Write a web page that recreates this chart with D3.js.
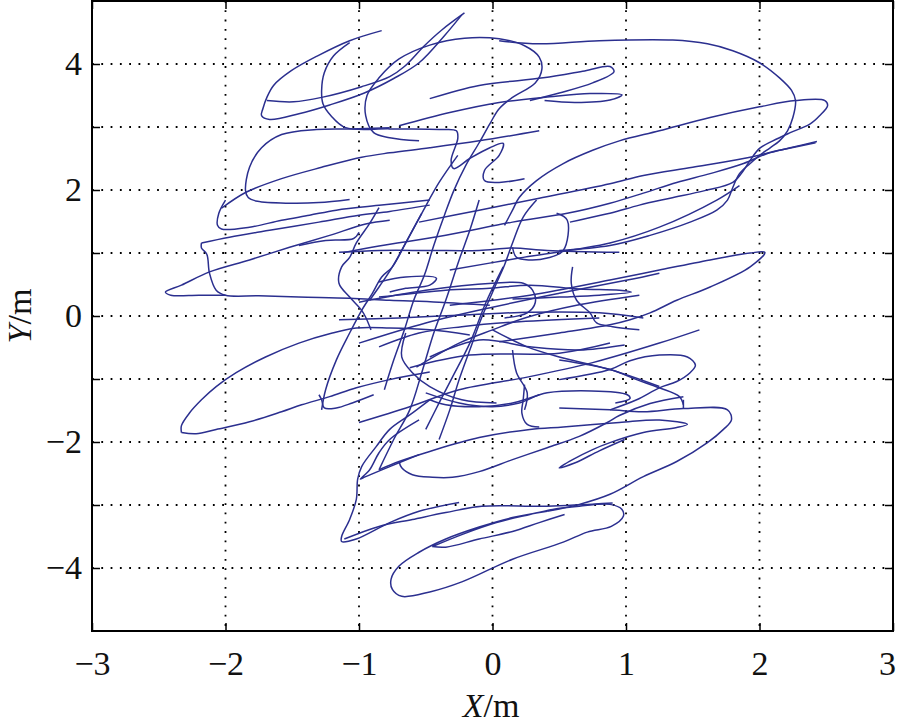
<!DOCTYPE html>
<html><head><meta charset="utf-8">
<script src="https://cdn.jsdelivr.net/npm/d3@7"></script>
<style>body{margin:0;background:#fff} svg{display:block}</style>
</head><body><svg id="c" width="900" height="723"></svg>
<script>
const xTickValues = [-3,-2,-1,0,1,2,3];
const yTickValues = [-4,-3,-2,-1,0,1,2,3,4];
const yLabelValues = [-4,-2,0,2,4];
const xDomain = [-3,3];
const yDomain = [-5,5];

// trajectory pieces, [X (m), Y (m)]
const seg01 = [[-0.83,4.53],[-1.07,4.37],[-1.31,4.13],[-1.51,3.89],[-1.64,3.66],[-1.69,3.47],[-1.72,3.29],[-1.73,3.18],[-1.67,3.12],[-1.45,3.21],[-1.22,3.35],[-0.96,3.54],[-0.74,3.77],[-0.55,4.02],[-0.36,4.45],[-0.23,4.78]];
const seg02 = [[-1.69,3.42],[-1.49,3.40],[-1.28,3.47],[-0.98,3.64],[-0.77,3.80],[-0.66,3.96],[-0.51,4.29],[-0.38,4.54],[-0.21,4.81]];
const seg03 = [[-1.07,4.34],[-1.19,4.13],[-1.26,3.86],[-1.28,3.58],[-1.27,3.37],[-1.21,3.18],[-1.10,2.99],[-0.77,2.97],[-0.40,2.96],[-0.27,2.94],[-0.26,2.82],[-0.31,2.47],[-0.29,2.34],[-0.17,2.50],[-0.02,2.67],[0.08,2.74],[0.05,2.55],[-0.06,2.31],[-0.06,2.15],[0.05,2.12],[0.24,2.18]];
const seg04 = [[-0.55,2.78],[-0.77,2.83],[-0.89,2.91],[-0.95,3.18],[-0.94,3.50],[-0.85,3.78],[-0.70,4.08],[-0.47,4.30],[-0.21,4.41],[0.05,4.40],[0.24,4.29],[0.35,4.11],[0.37,3.92],[0.32,3.70],[0.15,3.47],[0.05,3.29],[-0.02,3.05],[-0.10,2.75],[-0.20,2.39],[-0.29,1.99],[-0.36,1.60],[-0.44,1.12],[-0.51,0.65],[-0.59,0.25],[-0.66,-0.22],[-0.74,-0.70],[-0.81,-1.17]];
const seg05 = [[0.05,4.37],[0.35,4.32],[0.80,4.37],[1.35,4.38],[1.61,4.32],[1.80,4.21],[2.00,4.02],[2.15,3.78],[2.24,3.58],[2.27,3.42],[2.25,3.15],[2.21,2.94],[2.15,2.78],[2.08,2.67],[2.00,2.55],[1.93,2.42],[1.85,2.26],[1.80,2.04],[1.76,1.84],[1.68,1.68],[1.48,1.49],[1.18,1.28],[0.88,1.12],[0.50,1.04]];
const seg06 = [[0.09,1.44],[0.15,1.68],[0.20,1.88],[0.33,2.15],[0.53,2.42],[0.75,2.63],[0.95,2.78],[1.25,2.94],[1.63,3.15],[2.00,3.32],[2.27,3.42],[2.49,3.42],[2.51,3.34],[2.45,3.18],[2.38,3.05],[2.23,2.91],[2.10,2.78],[2.00,2.66],[1.93,2.47],[1.88,2.31],[1.80,2.12],[1.59,1.99],[1.33,1.87],[1.10,1.76],[0.88,1.63],[0.58,1.49]];
const seg07 = [[2.43,2.77],[2.23,2.67],[2.06,2.58],[1.88,2.42],[1.63,2.26],[1.38,2.12],[1.13,1.95],[0.88,1.79],[0.56,1.63],[0.15,1.49],[-0.35,1.28],[-0.85,1.11],[-1.11,1.01]];
const seg08 = [[-0.55,1.49],[-0.10,1.68],[0.35,1.87],[0.88,2.10],[1.13,2.23],[1.50,2.36],[1.88,2.50],[2.15,2.63],[2.42,2.75]];
const seg09 = [[-0.47,3.45],[-0.10,3.66],[0.38,3.78],[0.69,3.89],[0.88,3.96],[0.91,3.88],[0.75,3.70],[0.50,3.54],[0.28,3.42]];
const seg10 = [[-0.70,3.02],[-0.32,3.23],[0.05,3.39],[0.43,3.48],[0.73,3.53],[0.97,3.51],[0.88,3.43],[0.62,3.39],[0.39,3.42]];
const seg11 = [[-0.77,2.99],[-1.07,2.97],[-1.32,2.96],[-1.58,2.88],[-1.73,2.67],[-1.82,2.36],[-1.85,1.99],[-1.83,1.88],[-1.76,1.82],[-1.52,1.79],[-1.30,1.80],[-1.07,1.85]];
const seg12 = [[-2.03,1.71],[-1.85,1.96],[-1.58,2.18],[-1.28,2.36],[-0.98,2.52],[-0.77,2.59],[-0.47,2.67],[-0.10,2.78],[0.35,2.94]];
const seg13 = [[-2.00,1.84],[-2.05,1.63],[-2.06,1.44],[-2.03,1.38],[-1.82,1.41],[-1.58,1.52],[-1.37,1.60],[-1.17,1.68],[-0.83,1.76],[-0.47,1.84]];
const seg14 = [[-2.18,1.16],[-1.97,1.25],[-1.67,1.36],[-1.30,1.49],[-1.00,1.60],[-0.77,1.66],[-0.47,1.76]];
const seg15 = [[-2.18,1.16],[-2.18,1.08],[-2.14,0.98],[-2.12,0.68],[-2.07,0.41],[-2.00,0.33],[-1.75,0.32],[-1.45,0.30],[-1.07,0.28],[-0.77,0.25],[-0.40,0.22],[-0.02,0.17]];
const seg16 = [[-0.77,1.52],[-0.95,1.46],[-1.22,1.28],[-1.52,1.09],[-1.82,0.89],[-2.12,0.70],[-2.33,0.49],[-2.45,0.38],[-2.41,0.33],[-2.20,0.33],[-2.00,0.33]];
const seg17 = [[-0.85,1.72],[-0.92,1.47],[-1.02,1.16],[-1.07,0.93],[-1.13,0.78],[-1.15,0.52],[-1.07,0.30],[-0.98,0.09],[-0.95,-0.02],[-0.91,-0.22]];
const seg18 = [[-1.28,-1.49],[-1.25,-1.17],[-1.17,-0.70],[-1.07,-0.27],[-0.98,0.09],[-0.90,0.36],[-0.83,0.62],[-0.75,0.78],[-0.65,1.16],[-0.53,1.63],[-0.40,2.12],[-0.26,2.55]];
const seg19 = [[-1.45,1.12],[-1.25,1.20],[-1.04,1.23],[-1.00,1.33]];
const seg20 = [[-0.85,0.54],[-0.65,0.62],[-0.42,0.60],[-0.47,0.49],[-0.65,0.44],[-0.77,0.38]];
const seg21 = [[-2.33,-1.85],[-2.33,-1.74],[-2.27,-1.54],[-2.18,-1.33],[-2.07,-1.12],[-1.92,-0.90],[-1.70,-0.65],[-1.45,-0.43],[-1.20,-0.27],[-1.02,-0.19],[-0.77,-0.19],[-0.47,-0.22],[-0.17,-0.30]];
const seg22 = [[-2.33,-1.85],[-2.22,-1.87],[-2.07,-1.80],[-1.82,-1.68],[-1.58,-1.52],[-1.43,-1.41],[-1.22,-1.28],[-1.02,-1.14],[-0.77,-1.01],[-0.47,-0.89]];
const seg23 = [[-1.30,-1.25],[-1.28,-1.33],[-1.26,-1.46],[-1.17,-1.46],[-1.05,-1.38],[-0.89,-1.25]];
const seg24 = [[-0.47,-1.33],[-0.62,-1.57],[-0.77,-1.80],[-0.87,-2.07],[-0.98,-2.39],[-1.01,-2.59],[-1.02,-2.91],[-1.07,-3.23],[-1.13,-3.50],[-1.13,-3.58],[-1.02,-3.54],[-0.77,-3.28],[-0.55,-3.10],[-0.25,-2.96]];
const seg25 = [[-0.55,-1.65],[-0.77,-1.96],[-0.85,-2.17],[-0.92,-2.44],[-0.99,-2.59],[-0.95,-2.55],[-0.77,-2.39],[-0.55,-2.20]];
const seg26 = [[-0.85,-2.44],[-0.70,-2.31],[-0.47,-2.15],[-0.10,-1.93],[0.28,-1.80],[0.53,-1.76],[0.95,-1.69],[1.25,-1.65],[1.46,-1.72],[1.38,-1.77],[1.13,-1.85],[0.88,-2.01],[0.75,-2.12],[0.60,-2.28],[0.50,-2.41],[0.62,-2.33],[0.80,-2.14],[0.99,-1.96]];
const seg27 = [[-0.70,-2.31],[-0.68,-2.41],[-0.60,-2.52],[-0.45,-2.56],[-0.30,-2.56],[-0.10,-2.47],[0.15,-2.28],[0.41,-2.09],[0.65,-1.91],[0.86,-1.69],[0.95,-1.58],[1.18,-1.39],[1.43,-1.28]];
const seg28 = [[-0.47,-1.33],[-0.35,-1.41],[-0.10,-1.44],[0.15,-1.38],[0.35,-1.25]];
const seg29 = [[0.24,-1.09],[0.23,-1.33],[0.22,-1.54],[0.26,-1.72],[0.35,-1.76]];
const seg30 = [[0.50,-1.46],[0.88,-1.49],[1.13,-1.52],[1.43,-1.47],[1.76,-1.49],[1.79,-1.65],[1.73,-1.80],[1.61,-2.01],[1.38,-2.31],[1.13,-2.55],[0.88,-2.83],[0.65,-2.99],[0.41,-3.10]];
const seg31 = [[1.43,-1.33],[1.43,-1.47]];
const seg32 = [[-0.45,-3.66],[-0.23,-3.47],[0.03,-3.28],[0.28,-3.15],[0.45,-3.07],[0.65,-3.02],[0.88,-2.99],[0.97,-3.07],[0.98,-3.18],[0.89,-3.34],[0.71,-3.43],[0.53,-3.59],[0.15,-3.86],[-0.23,-4.22],[-0.47,-4.38],[-0.68,-4.45],[-0.75,-4.34],[-0.76,-4.18],[-0.70,-3.97],[-0.55,-3.75],[-0.35,-3.54],[-0.10,-3.35],[0.15,-3.20],[0.41,-3.10]];
const seg33 = [[0.90,-2.97],[0.41,-3.02],[-0.08,-3.02],[-0.35,-3.12],[-0.60,-3.23],[-0.85,-3.34],[-1.11,-3.54]];
const seg34 = [[-0.45,-3.66],[-0.35,-3.67],[-0.10,-3.54],[0.15,-3.42],[0.35,-3.28],[0.54,-3.15]];
const seg35 = [[-0.32,0.17],[0.28,0.33],[0.88,0.57],[1.25,0.73],[1.63,0.89],[1.93,1.00],[2.04,1.01],[1.93,0.78],[1.63,0.46],[1.38,0.25],[1.18,0.05],[1.03,-0.06],[0.88,-0.14],[0.50,-0.27],[0.05,-0.41]];
const seg36 = [[0.50,-1.01],[0.88,-0.85],[1.03,-0.71],[1.25,-0.62],[1.46,-0.65],[1.52,-0.78],[1.48,-0.90],[1.38,-1.04],[1.25,-1.14],[1.08,-1.33],[0.88,-1.49]];
const seg37 = [[0.50,-0.70],[0.88,-0.85],[1.08,-1.01],[1.25,-1.14],[1.40,-1.28],[1.43,-1.41]];
const seg38 = [[-0.32,0.73],[0.20,0.92],[0.88,1.16],[1.25,1.41],[1.68,1.84],[1.85,2.07]];
const seg39 = [[-0.85,0.30],[-0.35,0.41],[-0.02,0.44],[0.28,0.49],[0.65,0.43],[0.95,0.41],[1.04,0.38],[0.80,0.33],[0.50,0.30],[0.15,0.27]];
const seg40 = [[-1.15,1.01],[-0.85,1.04],[-0.47,1.04],[-0.10,1.04],[0.15,1.08],[0.41,1.04],[0.95,1.01]];
const seg41 = [[-1.15,-0.06],[-0.70,-0.03],[-0.17,0.02],[0.28,0.06],[0.80,0.05],[1.13,-0.03]];
const seg42 = [[-0.47,-0.65],[-0.10,-0.38],[0.28,-0.49],[0.65,-0.54],[0.99,-0.46]];
const seg43 = [[-0.62,-0.82],[-0.17,-0.62],[0.50,-0.59],[0.88,-0.43]];
const seg44 = [[0.60,0.78],[0.59,0.52],[0.63,0.25],[0.73,0.05],[0.78,-0.11],[0.90,-0.17],[1.10,-0.22]];
const seg45 = [[0.15,1.09],[0.18,0.93],[0.28,0.89],[0.41,0.92],[0.53,1.04],[0.56,1.52],[0.48,1.63]];
const seg46 = [[-0.10,1.84],[-0.17,1.36],[-0.25,0.89],[-0.35,0.25],[-0.44,-0.27],[-0.53,-0.90],[-0.62,-1.49],[-0.74,-1.96],[-0.85,-2.44]];
const seg47 = [[0.33,1.84],[0.23,1.57],[0.15,1.16],[0.09,0.81],[0.03,0.52],[-0.08,-0.02],[-0.17,-0.54],[-0.25,-1.01],[-0.32,-1.49],[-0.40,-1.96]];
const seg48 = [[-0.53,1.63],[-0.65,1.16],[-0.75,0.78],[-0.85,0.46],[-0.92,0.25]];
const seg49 = [[-0.65,-0.27],[-0.68,-0.65],[-0.60,-0.90],[-0.47,-1.12],[-0.23,-1.33],[0.03,-1.38]];
const seg50 = [[0.15,-0.54],[0.18,-0.90],[0.26,-1.22],[0.24,-1.49]];
const seg51 = [[-0.85,-0.49],[-0.55,-0.27],[-0.23,-0.17],[0.20,-0.09],[0.80,-0.03]];
const seg52 = [[-1.00,-0.43],[-0.50,-0.11],[0.00,0.14],[0.50,0.36],[1.01,0.57],[1.25,0.68]];
const seg53 = [[-0.57,-0.81],[-0.25,-0.43],[0.00,-0.22],[0.26,-0.02],[0.63,0.17],[1.10,0.33]];
const seg54 = [[-1.00,-1.69],[-0.62,-1.44],[-0.25,-1.17],[0.26,-0.97],[0.75,-0.74],[1.25,-0.43],[1.55,-0.22]];
const seg55 = [[0.00,-0.22],[0.26,-0.49],[0.50,-0.65],[0.88,-0.85],[1.25,-1.12]];
const seg56 = [[0.08,0.78],[-0.05,0.21],[-0.17,-0.43],[-0.30,-0.97],[-0.40,-1.38],[-0.50,-1.80]];
const seg57 = [[-0.50,-1.22],[-0.25,-1.38],[0.00,-1.44],[0.20,-1.38],[0.41,-1.22],[1.01,-1.25],[1.03,-1.31],[0.92,-1.38]];
const seg58 = [[-1.00,0.22],[-0.50,0.41],[0.00,0.52],[0.23,0.52],[0.30,0.41],[0.32,0.21],[0.26,0.05],[0.09,-0.03]];

const trajectory = [seg01,seg02,seg03,seg04,seg05,seg06,seg07,seg08,seg09,seg10,seg11,seg12,seg13,seg14,seg15,seg16,seg17,seg18,seg19,seg20,seg21,seg22,seg23,seg24,seg25,seg26,seg27,seg28,seg29,seg30,seg31,seg32,seg33,seg34,seg35,seg36,seg37,seg38,seg39,seg40,seg41,seg42,seg43,seg44,seg45,seg46,seg47,seg48,seg49,seg50,seg51,seg52,seg53,seg54,seg55,seg56,seg57,seg58];

const svg = d3.select("#c");
const M = {l:92, r:893, t:1, b:631};
const x = d3.scaleLinear().domain(xDomain).range([M.l, M.r]);
const y = d3.scaleLinear().domain(yDomain).range([M.b, M.t]);
const FONT = "'Liberation Serif','Times New Roman',serif";

// dotted grid
const grid = svg.append("g");
grid.selectAll("line.gx").data(xTickValues.filter(v => v > xDomain[0] && v < xDomain[1])).join("line")
  .attr("x1", d => x(d)).attr("x2", d => x(d)).attr("y1", M.t).attr("y2", M.b)
  .attr("stroke", "#000").attr("stroke-width", 1.8).attr("stroke-dasharray", "1.8,7.5");
grid.selectAll("line.gy").data(yTickValues).join("line")
  .attr("y1", d => y(d)).attr("y2", d => y(d)).attr("x1", M.l).attr("x2", M.r)
  .attr("stroke", "#000").attr("stroke-width", 1.8).attr("stroke-dasharray", "1.8,7.5");

// trajectory
const line = d3.line().x(d => x(d[0])).y(d => y(d[1])).curve(d3.curveCatmullRom.alpha(0.5));
svg.append("g").selectAll("path").data(trajectory).join("path")
  .attr("d", line).attr("fill", "none").attr("stroke", "#2b2f8f").attr("stroke-width", 1.5)
  .attr("stroke-linejoin", "round");

// axes (ticks inside)
const fmt = d3.format("d");
const xAxis = d3.axisBottom(x).tickValues(xTickValues).tickSizeInner(-8).tickSizeOuter(0).tickPadding(20).tickFormat(fmt);
const xTop = d3.axisTop(x).tickValues(xTickValues).tickSizeInner(-8).tickSizeOuter(0).tickFormat("");
const yAxis = d3.axisLeft(y).tickValues(yTickValues).tickSizeInner(-8).tickSizeOuter(0).tickPadding(10)
  .tickFormat(d => yLabelValues.includes(d) ? fmt(d) : "");
const yRight = d3.axisRight(y).tickValues(yTickValues).tickSizeInner(-8).tickSizeOuter(0).tickFormat("");

function style(g){
  g.select(".domain").remove();
  g.selectAll(".tick line").attr("stroke", "#000").attr("stroke-width", 1.5);
  g.selectAll("text").attr("font-family", FONT).attr("font-size", 34).attr("fill", "#111");
}
const gx = svg.append("g").attr("transform", `translate(0,${M.b})`).call(xAxis).call(style);
gx.selectAll(".tick text").filter(d => d === xDomain[1]).attr("dx", "-6");
svg.append("g").attr("transform", `translate(0,${M.t})`).call(xTop).call(style);
svg.append("g").attr("transform", `translate(${M.l},0)`).call(yAxis).call(style);
svg.append("g").attr("transform", `translate(${M.r},0)`).call(yRight).call(style);

// frame
svg.append("rect").attr("x", M.l).attr("y", M.t).attr("width", M.r - M.l).attr("height", M.b - M.t)
  .attr("fill", "none").attr("stroke", "#000").attr("stroke-width", 2);

// axis titles
const xt = svg.append("text").attr("x", 491).attr("y", 717).attr("text-anchor", "middle")
  .attr("font-family", FONT).attr("font-size", 34).attr("fill", "#111");
xt.append("tspan").attr("font-style", "italic").text("X");
xt.append("tspan").text("/m");
const yt = svg.append("text").attr("transform", "translate(31,316) rotate(-90)").attr("text-anchor", "middle")
  .attr("font-family", FONT).attr("font-size", 34).attr("fill", "#111");
yt.append("tspan").attr("font-style", "italic").text("Y");
yt.append("tspan").text("/m");
</script></body></html>
